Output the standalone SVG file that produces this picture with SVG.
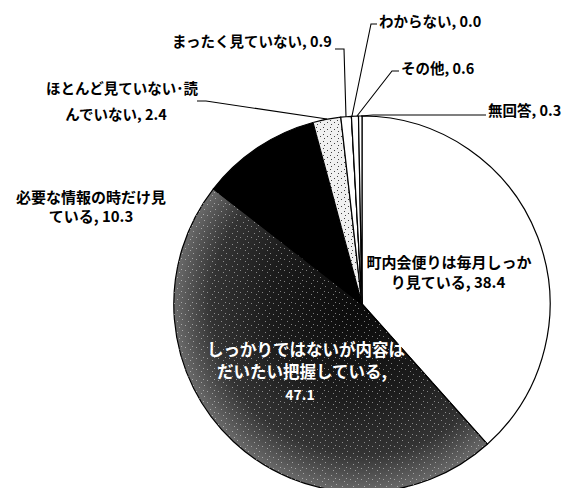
<svg xmlns="http://www.w3.org/2000/svg" width="568" height="488" viewBox="0 0 568 488">
  <defs>
    <radialGradient id="darkGrad" cx="362" cy="304" r="188" gradientUnits="userSpaceOnUse">
      <stop offset="0" stop-color="#0a0a0a"/>
      <stop offset="0.5" stop-color="#1c1c1c"/>
      <stop offset="0.8" stop-color="#333"/>
      <stop offset="1" stop-color="#6a6a6a"/>
    </radialGradient>
    <pattern id="stippleLight" width="11" height="11" patternUnits="userSpaceOnUse">
      <rect x="1" y="2" width="1" height="1" fill="#fff"/>
      <rect x="6" y="0" width="1" height="1" fill="#fff"/>
      <rect x="9" y="6" width="1" height="1" fill="#fff"/>
      <rect x="3" y="8" width="1" height="1" fill="#fff"/>
      <rect x="5" y="5" width="1" height="1" fill="#fff"/>
    </pattern>
    <pattern id="stippleDark" width="7" height="7" patternUnits="userSpaceOnUse">
      <rect x="1" y="1" width="1" height="1" fill="#444"/>
      <rect x="5" y="3" width="1" height="1" fill="#444"/>
      <rect x="2" y="5" width="1" height="1" fill="#444"/>
    </pattern>
  </defs>
  <style>
    .lbl { font-family: "Noto Sans CJK JP", "Noto Sans", sans-serif; fill: #000; font-weight: bold; }
    .sm { font-size: 14.5px; }
    .md { font-size: 15px; }
    .inner { font-family: "Noto Sans CJK JP", "Noto Sans", sans-serif; font-size: 16.5px; fill: #fff; font-weight: bold; }
    .num { font-size: 14px; }
    .slice { stroke: #000; stroke-width: 1.2; stroke-linejoin: round; }
    .lead { fill: none; stroke: #000; stroke-width: 1.1; }
  </style>
  <rect width="568" height="488" fill="#fff"/>

  <g id="pie">
    <g id="slice-mainichi">
      <path class="slice" d="M362,304 L362,116 A188,188 0 0,1 487.3,444.2 Z" fill="#fff"/>
    </g>
    <g id="slice-naiyou">
      <path class="slice" d="M362,304 L487.3,444.2 A188,188 0 0,1 213.4,188.8 Z" fill="url(#darkGrad)"/>
      <path d="M362,304 L487.3,444.2 A188,188 0 0,1 213.4,188.8 Z" fill="url(#stippleLight)" opacity="0.45"/>
    </g>
    <g id="slice-hitsuyou">
      <path class="slice" d="M362,304 L213.4,188.8 A188,188 0 0,1 313.0,122.5 Z" fill="#000"/>
    </g>
    <g id="slice-hotondo">
      <path class="slice" d="M362,304 L313.0,122.5 A188,188 0 0,1 340.8,117.2 Z" fill="#f0f0f0"/>
      <path d="M362,304 L313.0,122.5 A188,188 0 0,1 340.8,117.2 Z" fill="url(#stippleDark)"/>
    </g>
    <g id="slice-mattaku">
      <path class="slice" d="M362,304 L340.8,117.2 A188,188 0 0,1 351.4,116.3 Z" fill="#fff"/>
    </g>
    <g id="slice-wakaranai">
      <path class="slice" d="M362,304 L351.4,116.3 Z" fill="none"/>
    </g>
    <g id="slice-sonota">
      <path class="slice" d="M362,304 L351.4,116.3 A188,188 0 0,1 358.5,116.0 Z" fill="#fff"/>
    </g>
    <g id="slice-mukaitou">
      <path class="slice" d="M362,304 L358.5,116.0 A188,188 0 0,1 362,116 Z" fill="#fff"/>
    </g>
  </g>

  <g id="connectors">
    <polyline class="lead" points="197,101 206,101 327,119"/>
    <polyline class="lead" points="335,49 344,49 346,117"/>
    <polyline class="lead" points="377,24 371,24 352,116"/>
    <polyline class="lead" points="399,71 392,71 357,116"/>
    <polyline class="lead" points="486,115 373,115 361,116"/>
  </g>

  <g id="label-wakaranai">
    <text class="lbl sm" x="379" y="27">わからない, 0.0</text>
  </g>
  <g id="label-mattaku">
    <text class="lbl sm" x="172" y="47">まったく見ていない, 0.9</text>
  </g>
  <g id="label-sonota">
    <text class="lbl sm" x="401" y="74">その他, 0.6</text>
  </g>
  <g id="label-mukaitou">
    <text class="lbl sm" x="488" y="116">無回答, 0.3</text>
  </g>
  <g id="label-hotondo">
    <text class="lbl sm" x="122" y="94" text-anchor="middle">ほとんど見ていない･読</text>
    <text class="lbl sm" x="116" y="120" text-anchor="middle">んでいない, 2.4</text>
  </g>
  <g id="label-hitsuyou">
    <text class="lbl md" x="91" y="203" text-anchor="middle">必要な情報の時だけ見</text>
    <text class="lbl md" x="91" y="222" text-anchor="middle">ている, 10.3</text>
  </g>
  <g id="label-mainichi">
    <text class="lbl md" x="449" y="268" text-anchor="middle">町内会便りは毎月しっか</text>
    <text class="lbl md" x="448" y="288" text-anchor="middle">り見ている, 38.4</text>
  </g>
  <g id="label-naiyou">
    <text class="inner" x="306" y="356" text-anchor="middle">しっかりではないが内容は</text>
    <text class="inner" x="302" y="378" text-anchor="middle">だいたい把握している,</text>
    <text class="inner num" x="300" y="400" text-anchor="middle">47.1</text>
  </g>
</svg>
